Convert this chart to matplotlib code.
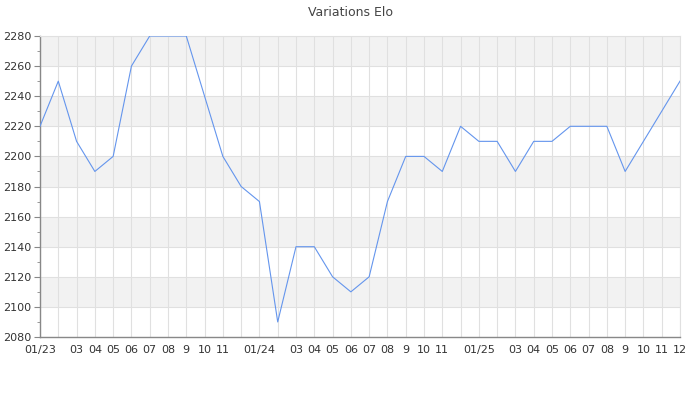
import numpy as np
import matplotlib
matplotlib.use('Agg')
from matplotlib import pyplot as plt
from matplotlib.ticker import MultipleLocator

# valeurs mensuelles, 01/2023 -> 12/2025
elo = [2220, 2250, 2210, 2190, 2200, 2260, 2280, 2280, 2280, 2240, 2200, 2180,
       2170, 2090, 2140, 2140, 2120, 2110, 2120, 2170, 2200, 2200, 2190, 2220,
       2210, 2210, 2190, 2210, 2210, 2220, 2220, 2220, 2190, 2210, 2230, 2250]
month_labels = ['01/23', '', '03', '04', '05', '06', '07', '08', '9', '10', '11', '',
                '01/24', '', '03', '04', '05', '06', '07', '08', '9', '10', '11', '',
                '01/25', '', '03', '04', '05', '06', '07', '08', '9', '10', '11', '12']
title = 'Variations Elo'

fig = plt.figure(figsize=(7, 4), dpi=100)
ax = fig.add_axes([40/700, 63/400, 640/700, 301/400])

x = np.arange(len(elo))
ymin, ymax = 2080, 2280

# bandes grises alternées
for y0 in range(2100, ymax, 40):
    ax.axhspan(y0, y0 + 20, color='#f2f2f2', zorder=0, lw=0)

ax.plot(x, elo, color='#6495ed', lw=0.8, zorder=3)

ax.set_xlim(0, len(elo) - 1)
ax.set_ylim(ymin, ymax)
ax.set_xticks(x)
ax.set_xticklabels(month_labels)
ax.yaxis.set_major_locator(MultipleLocator(20))
ax.yaxis.set_minor_locator(MultipleLocator(10))

ax.grid(True, which='major', color='#e0e0e0', lw=0.8, zorder=1)
ax.set_axisbelow(True)

for s in ['top', 'right']:
    ax.spines[s].set_color('#e0e0e0')
    ax.spines[s].set_linewidth(0.8)
for s in ['left', 'bottom']:
    ax.spines[s].set_color('#888888')
    ax.spines[s].set_linewidth(1)

ax.tick_params(axis='x', length=0, pad=6, labelsize=8, colors='#333333')
ax.tick_params(axis='y', which='major', length=4, labelsize=8, colors='#333333', pad=2)
ax.tick_params(axis='y', which='minor', length=2, color='#888888')
ax.tick_params(axis='y', which='major', color='#888888')

fig.text(0.5, 1 - 12/400, title, ha='center', va='center', fontsize=9, color='#444444')

fig.savefig('out.png', dpi=100)
